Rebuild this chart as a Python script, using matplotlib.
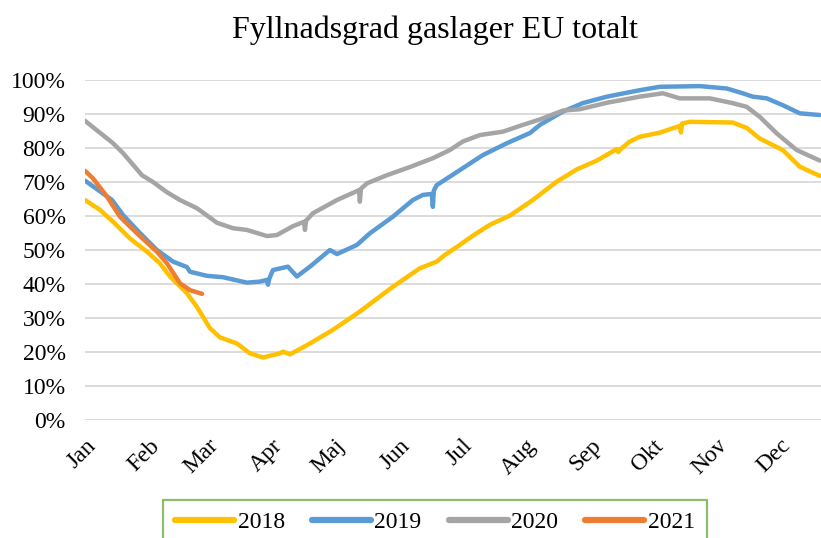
import numpy as np
import matplotlib.pyplot as plt
from matplotlib.ticker import PercentFormatter

# day of year (0 = 1 Jan) and filling level (%)
months = ['Jan', 'Feb', 'Mar', 'Apr', 'Maj', 'Jun', 'Jul', 'Aug', 'Sep', 'Okt', 'Nov', 'Dec']
month_start = [0, 31, 59, 90, 120, 151, 181, 212, 243, 273, 304, 334]

days_2018 = [0, 7.2, 13.5, 21.6, 29.8, 36, 40.9, 49, 53.8, 60.1, 64.9, 73.1, 79.3, 85.6, 93.8,
             95.2, 98.6, 108.2, 119.2, 132.2, 148.1, 161, 169.2, 173, 180.3, 186.5, 194.7,
             204.3, 215.4, 226.9, 236.5, 246.2, 255.8, 256.5, 257.5, 262, 266.8, 276.4,
             286.1, 286.6, 287.2, 290.9, 311.5, 318.3, 324.5, 335.6, 343.8, 353.4]
vals_2018 = [64.7, 61.8, 58.3, 53.4, 49.5, 46.1, 42.2, 37.3, 33.3, 27, 24.3, 22.5, 19.6, 18.4, 19.6,
             20.1, 19.3, 22.5, 26.5, 31.9, 39.2, 44.6, 46.6, 48.5, 51.5, 54.2, 57.4,
             60.1, 64.7, 70.1, 73.7, 76.3, 79.7, 78.8, 79.6, 81.9, 83.3, 84.5,
             86.5, 84.6, 87.2, 87.7, 87.5, 85.9, 82.8, 79.4, 74.5, 71.8]

days_2019 = [0, 13, 18.3, 26.4, 34.6, 42.3, 49, 50.5, 58.7, 66.3, 77.9, 84.1, 87.5, 88, 88.6,
             90.4, 97.6, 101.9, 108.2, 117.8, 121.2, 130.8, 137, 148.1, 157.7, 162.5, 166.8,
             167.3, 167.8, 169.2, 180.3, 191.3, 202.9, 214, 218.8, 229.8, 239.4, 251, 266.8,
             276.4, 295.7, 308.7, 316.3, 321.2, 327.9, 335.6, 343.8, 353.4]
vals_2019 = [70.4, 64.7, 60.3, 55, 50, 46.6, 45, 43.6, 42.4, 42, 40.4, 40.7, 41.2, 39.8, 41.5,
             44.1, 45.1, 42.2, 45.1, 50, 48.8, 51.5, 54.9, 59.8, 64.7, 66.2, 66.5,
             62.7, 67.5, 69.1, 73.5, 77.9, 81.4, 84.4, 86.8, 90.7, 93.2, 95.1, 97,
             98, 98.2, 97.5, 96.1, 95.1, 94.6, 92.6, 90.2, 89.7]

days_2020 = [0, 13.5, 18.3, 27.4, 32.7, 39.4, 45.7, 53.8, 63.5, 71.2, 77.9, 87.5, 92.3, 100,
             105.3, 105.8, 106.3, 109.6, 121.2, 131.8, 132.2, 132.7, 135.6, 145.2, 156.3,
             167.3, 175.5, 181.7, 189.9, 201, 210.6, 218.8, 229.8, 238, 251, 266.8, 277.9,
             286.1, 300.5, 311.5, 318.3, 324.5, 332.7, 342.3, 353.4]
vals_2020 = [88, 81.4, 78.5, 72, 70, 67, 64.7, 62.3, 58, 56.4, 55.9, 54.1, 54.4, 57,
             58.3, 55.9, 58.6, 60.8, 64.7, 67.6, 64.2, 68, 69.6, 72, 74.4,
             77, 79.4, 81.9, 83.8, 84.8, 86.8, 88.4, 91, 91.4, 93.3, 95.1, 96.1,
             94.6, 94.6, 93.2, 92.1, 89.2, 84.3, 79.4, 76.3]

days_2021 = [0, 3.8, 10.6, 16.8, 25, 34.6, 39.4, 45.7, 50.5, 56.3]
vals_2021 = [73.3, 71.1, 65.7, 59.8, 54.9, 49.5, 46.1, 40.2, 38.2, 37.1]

series = [('2018', days_2018, vals_2018, '#FFC000'),
          ('2019', days_2019, vals_2019, '#5B9BD5'),
          ('2020', days_2020, vals_2020, '#A5A5A5'),
          ('2021', days_2021, vals_2021, '#ED7D31')]

plt.rcParams['font.family'] = ['Liberation Serif', 'DejaVu Serif']

fig = plt.figure(figsize=(8.21, 5.38), dpi=100)
ax = fig.add_axes([85 / 821, 1 - 420 / 538, 1 - 85 / 821, 340 / 538])

for name, d, v, c in series:
    ax.plot(d, np.array(v) / 100, color=c, lw=3.2, label=name, solid_capstyle='round')

ax.set_xlim(0, 354)
ax.set_ylim(0, 1.0)
ax.set_yticks(np.arange(0, 1.01, 0.1))
ax.yaxis.set_major_formatter(PercentFormatter(1.0, decimals=0))
ax.set_xticks(month_start)
ax.set_xticklabels(months, rotation=45, ha='right', va='top', rotation_mode='anchor')
ax.tick_params(axis='both', length=0, labelsize=17)
ax.tick_params(axis='y', pad=14)
ax.tick_params(axis='x', pad=11)
ax.grid(axis='y', color='#D9D9D9', lw=1.3)
ax.set_axisbelow(True)
for s in ax.spines.values():
    s.set_visible(False)

fig.text(435 / 821, 1 - 30 / 538, 'Fyllnadsgrad gaslager EU totalt', ha='center', va='center', fontsize=23)

leg = fig.legend(loc='upper center', bbox_to_anchor=(435 / 821, 1 - 500 / 538), ncol=4,
                 fontsize=17, frameon=True, fancybox=False, handlelength=2.5,
                 handletextpad=0.15, columnspacing=1.15, borderpad=0.5, borderaxespad=0)
leg.get_frame().set_edgecolor('#70AD47')
leg.get_frame().set_linewidth(1.6)
for h in leg.get_lines():
    h.set_linewidth(4.5)
    h.set_solid_capstyle('round')

fig.savefig('out.png', dpi=100)
